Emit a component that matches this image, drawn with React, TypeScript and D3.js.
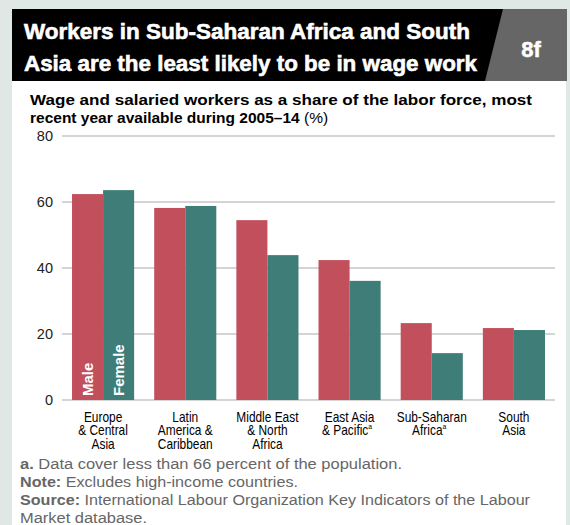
import React, { useEffect, useRef } from 'react';
import * as d3 from 'd3';

const regions = [
  ['Europe', '& Central', 'Asia'],
  ['Latin', 'America &', 'Caribbean'],
  ['Middle East', '& North', 'Africa'],
  ['East Asia', '& Pacific^'],
  ['Sub-Saharan', 'Africa^'],
  ['South', 'Asia'],
];
const maleShare = [62.4, 58.2, 54.5, 42.4, 23.3, 21.8];
const femaleShare = [63.6, 58.8, 43.9, 36.1, 14.2, 21.2];
const yTicks = [0, 20, 40, 60, 80];

const MALE = '#c24f5c';
const FEMALE = '#3f7d78';
const FONT = 'Liberation Sans, Arial, sans-serif';

export default function App() {
  const svgRef = useRef<SVGSVGElement>(null);

  useEffect(() => {
    if (!svgRef.current) return;
    const svg = d3.select(svgRef.current);
    svg.selectAll('*').remove();

    const W = 570, H = 525;
    svg.append('rect').attr('width', W).attr('height', H).attr('fill', '#dfe8e4');
    svg.append('rect').attr('x', 12).attr('y', 9).attr('width', 554).attr('height', H - 9).attr('fill', '#fff');

    // header
    svg.append('rect').attr('x', 12).attr('y', 9).attr('width', 500).attr('height', 72).attr('fill', '#000');
    svg.append('path')
      .attr('d', 'M503,9 L567,9 L567,81 L485,81 Z')
      .attr('fill', '#666');
    const title = ['Workers in Sub-Saharan Africa and South', 'Asia are the least likely to be in wage work'];
    svg.append('g').selectAll('text').data(title).enter().append('text')
      .attr('x', 24).attr('y', (_, i) => 39 + i * 32)
      .attr('fill', '#fff').attr('stroke', '#fff').attr('stroke-width', 0.6)
      .attr('font-family', FONT)
      .attr('font-weight', 700).attr('font-size', 22)
      .attr('textLength', (_, i) => (i === 0 ? 446 : 453))
      .attr('lengthAdjust', 'spacingAndGlyphs')
      .text(d => d);
    svg.append('text').attr('x', 531).attr('y', 57).attr('text-anchor', 'middle')
      .attr('fill', '#fff').attr('stroke', '#fff').attr('stroke-width', 0.5)
      .attr('font-family', FONT)
      .attr('font-weight', 700).attr('font-size', 22).text('8f');

    // subtitle
    const sub = svg.append('g').attr('font-family', FONT)
      .attr('font-size', 15.5).attr('fill', '#000');
    sub.append('text').attr('x', 30).attr('y', 105).attr('font-weight', 'bold')
      .attr('textLength', 502).attr('lengthAdjust', 'spacingAndGlyphs')
      .text('Wage and salaried workers as a share of the labor force, most');
    const l2 = sub.append('text').attr('x', 30).attr('y', 123);
    l2.append('tspan').attr('font-weight', 'bold').text('recent year available during 2005–14 ');
    l2.append('tspan').text('(%)');

    // scales
    const x = d3.scaleBand<number>().domain(d3.range(regions.length)).range([62, 555])
      .paddingInner(0.244).paddingOuter(0.122);
    const xs = d3.scaleBand<string>().domain(['m', 'f']).range([0, x.bandwidth()]);
    const y = d3.scaleLinear().domain([0, 80]).range([400, 136]);

    const g = svg.append('g');
    g.selectAll('line.grid').data(yTicks).enter().append('line')
      .attr('x1', 62).attr('x2', 555)
      .attr('y1', d => y(d)).attr('y2', d => y(d))
      .attr('stroke', '#c6c6c6').attr('stroke-width', 1.5);
    g.selectAll('text.tick').data(yTicks).enter().append('text')
      .attr('x', 53).attr('y', d => y(d) + 5)
      .attr('text-anchor', 'end')
      .attr('font-family', FONT).attr('font-size', 14.5)
      .attr('fill', '#222').text(d => d);

    g.selectAll('rect.male').data(maleShare).enter().append('rect')
      .attr('x', (_, i) => (x(i) as number) + (xs('m') as number))
      .attr('width', xs.bandwidth())
      .attr('y', d => y(d)).attr('height', d => y(0) - y(d))
      .attr('fill', MALE);
    g.selectAll('rect.female').data(femaleShare).enter().append('rect')
      .attr('x', (_, i) => (x(i) as number) + (xs('f') as number))
      .attr('width', xs.bandwidth())
      .attr('y', d => y(d)).attr('height', d => y(0) - y(d))
      .attr('fill', FEMALE);

    // series labels inside first pair
    const lbl = [['m', 'Male'], ['f', 'Female']];
    g.selectAll('text.series').data(lbl).enter().append('text')
      .attr('transform', d => `translate(${(x(0) as number) + (xs(d[0]) as number) + xs.bandwidth() / 2 + 5.5},396) rotate(-90)`)
      .attr('fill', '#fff').attr('font-family', FONT)
      .attr('font-weight', 'bold').attr('font-size', 15).text(d => d[1]);

    // category labels (condensed)
    const cat = g.selectAll('g.cat').data(regions).enter().append('g')
      .attr('transform', (_, i) => `translate(${(x(i) as number) + x.bandwidth() / 2},0) scale(0.85,1)`);
    cat.each(function (lines) {
      const sel = d3.select(this);
      lines.forEach((ln, j) => {
        const sup = ln.endsWith('^');
        const t = sel.append('text')
          .attr('text-anchor', 'middle')
          .attr('font-family', FONT)
          .attr('font-size', 14).attr('fill', '#000')
          .attr('x', sup ? -3 : 0).attr('y', 422 + j * 13.4);
        t.append('tspan').text(sup ? ln.slice(0, -1) : ln);
        if (sup) t.append('tspan').attr('dy', -6).attr('font-size', 8).text('a');
      });
    });

    // notes
    const notes: [string, string, number][] = [
      ['a.', ' Data cover less than 66 percent of the population.', 382],
      ['Note:', ' Excludes high-income countries.', 278],
      ['Source:', ' International Labour Organization Key Indicators of the Labour', 510],
      ['', 'Market database.', 127],
    ];
    const nt = svg.append('g').attr('font-family', FONT)
      .attr('font-size', 15.5).attr('fill', '#666');
    notes.forEach(([b, r, len], i) => {
      const t = nt.append('text').attr('x', 20).attr('y', 469 + i * 18)
        .attr('textLength', len).attr('lengthAdjust', 'spacingAndGlyphs');
      if (b) t.append('tspan').attr('font-weight', 'bold').text(b);
      t.append('tspan').text(r);
    });
  }, []);

  return (
    <div style={{ position: 'fixed', left: 0, top: 0, width: 570, height: 525 }}>
      <svg ref={svgRef} width={570} height={525} style={{ display: 'block' }} />
    </div>
  );
}
